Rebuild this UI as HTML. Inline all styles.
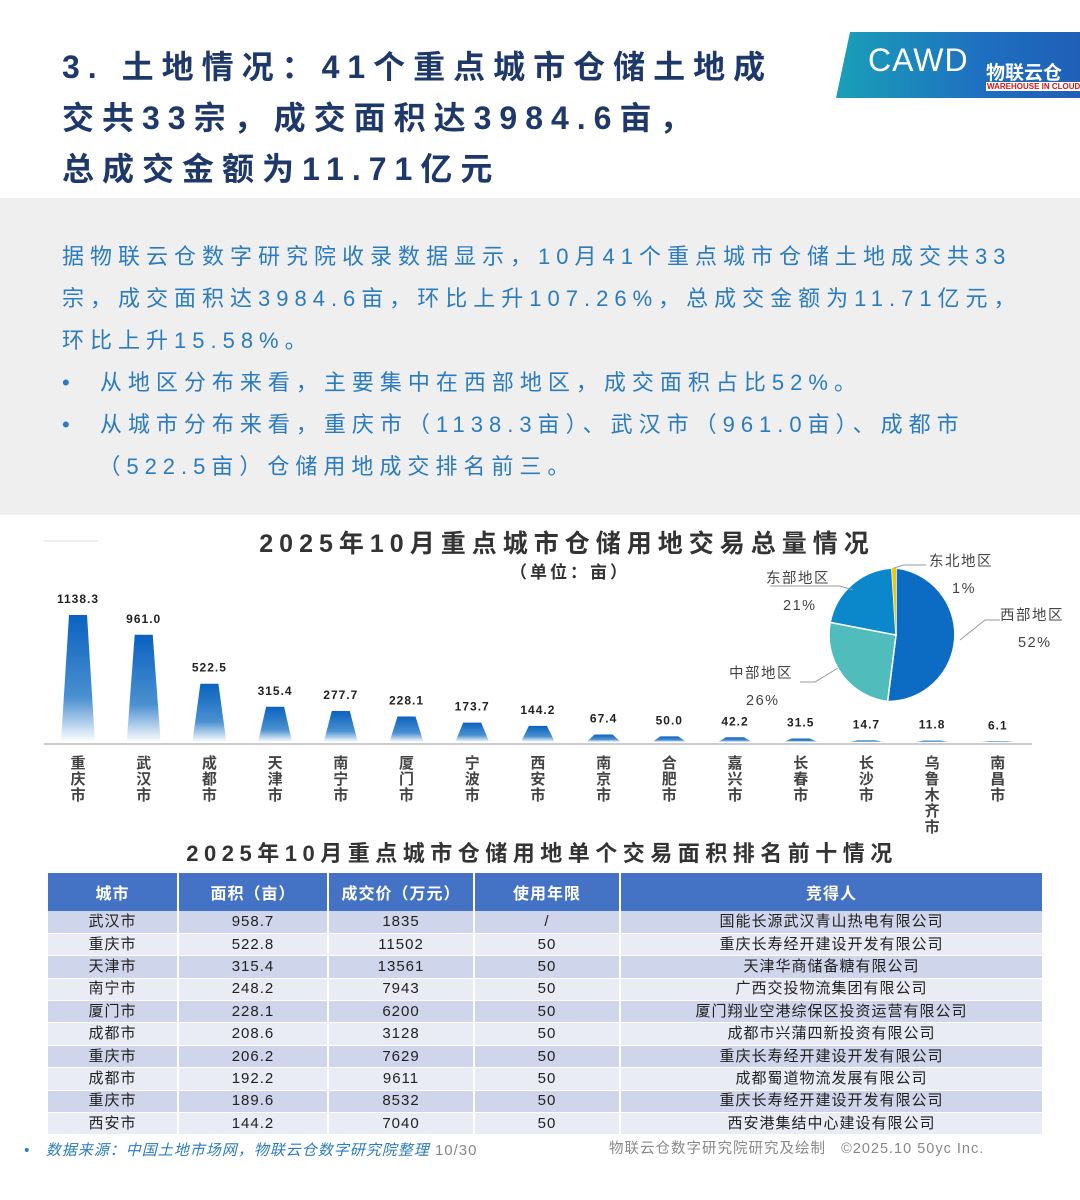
<!DOCTYPE html>
<html><head><meta charset="utf-8"><style>
*{margin:0;padding:0;box-sizing:border-box}
body{width:1080px;height:1200px;background:#fff;font-family:"Liberation Sans","Noto Sans CJK SC",sans-serif;position:relative;overflow:hidden}
.t{position:absolute;left:62px;top:42px;font-size:32px;font-weight:bold;color:#1d3869;line-height:51px;letter-spacing:8px;white-space:nowrap}
.g{position:absolute;left:0;top:198px;width:1080px;height:317px;background:#efefef}
.p{position:absolute;left:62px;top:236px;width:1010px;font-size:22px;color:#2b7bbf;line-height:42px;letter-spacing:6px;white-space:nowrap}
table{position:absolute;left:48px;top:873px;width:996px;border-collapse:collapse;font-size:15px;color:#222;letter-spacing:1px}
th{background:#4472c4;color:#fff;height:38px;font-size:16px;border-right:2px solid #fff}
td{height:22.4px;text-align:center;border-right:2px solid #fff;border-bottom:1px solid #fff;line-height:20px}
tr:nth-child(even) td{background:#cfd5ea}tr:nth-child(odd) td{background:#e9ebf5}
</style></head><body>
<div class="t">3. 土地情况：41个重点城市仓储土地成<br>交共33宗，成交面积达3984.6亩，<br>总成交金额为11.71亿元</div>
<div style="position:absolute;left:836px;top:32px;width:244px;height:66px;background:linear-gradient(90deg,#1aa0b8,#1e6fc0 60%,#1f5fb8);clip-path:polygon(14px 0,100% 0,100% 100%,0 100%)"></div>
<div style="position:absolute;left:868px;top:42px;color:#fff;font-size:32px;font-family:'Liberation Sans';letter-spacing:1px">CAWD</div>
<div style="position:absolute;left:986px;top:58px;color:#fff;font-size:19px;font-weight:bold">物联云仓</div>
<div style="position:absolute;left:986px;top:82px;color:#d01818;font-size:8px;font-weight:bold;background:#fff;padding:0 1px;white-space:nowrap">WAREHOUSE IN CLOUD</div>
<div class="g"></div>
<div class="p">据物联云仓数字研究院收录数据显示，10月41个重点城市仓储土地成交共33<br>宗，成交面积达3984.6亩，环比上升107.26%，总成交金额为11.71亿元，<br>环比上升15.58%。<br>•&nbsp; 从地区分布来看，主要集中在西部地区，成交面积占比52%。<br>•&nbsp; 从城市分布来看，重庆市（1138.3亩）、武汉市（961.0亩）、成都市<br>&nbsp;&nbsp;&nbsp;（522.5亩）仓储用地成交排名前三。</div>
<div style="position:absolute;left:0;top:524px;width:1080px;text-align:center;font-size:25px;font-weight:bold;color:#333;padding-left:54px;letter-spacing:6px">2025年10月重点城市仓储用地交易总量情况</div>
<div style="position:absolute;left:0;top:558px;width:1080px;text-align:center;font-size:17px;font-weight:bold;color:#333;padding-left:60px;letter-spacing:3px">（单位：亩）</div>
<svg width="1080" height="840" style="position:absolute;left:0;top:0" font-family="Liberation Sans, Noto Sans CJK SC, sans-serif">
<defs><linearGradient id="bg" x1="0" y1="0" x2="0" y2="1"><stop offset="0" stop-color="#0a62c0"/><stop offset="0.65" stop-color="#4a90d0"/><stop offset="1" stop-color="#fff"/></linearGradient></defs>
<line x1="44" y1="541" x2="98" y2="541" stroke="#ddd"/>
<line x1="44" y1="744" x2="1032" y2="744" stroke="#ccc" stroke-width="2"/>
<g id="bars"></g>
<path d="M896,635 L896,568 A67,67 0 0 1 887.6,701.5 Z" fill="#0c6cc4" stroke="#fff" stroke-width="1.5"/>
<path d="M896,635 L887.6,701.5 A67,67 0 0 1 830.2,622.4 Z" fill="#50bcbc" stroke="#fff" stroke-width="1.5"/>
<path d="M896,635 L830.2,622.4 A67,67 0 0 1 891.8,568.1 Z" fill="#0b88cc" stroke="#fff" stroke-width="1.5"/>
<path d="M896,635 L891.8,568.1 A67,67 0 0 1 896,568 Z" fill="#f2c800"/>
<g fill="none" stroke="#999"><path d="M894,568 L904,565 L926,565"/><path d="M853,590 L840,586 L770,586"/><path d="M960,640 L985,620 L1000,620"/><path d="M838,668 L815,682 L800,682"/></g>
<g font-size="14.5" fill="#444" letter-spacing="1.5"><text x="929" y="566">东北地区</text><text x="952" y="593">1%</text><text x="766" y="583">东部地区</text><text x="783" y="610">21%</text><text x="1000" y="620">西部地区</text><text x="1018" y="647">52%</text><text x="729" y="678">中部地区</text><text x="746" y="705">26%</text></g>
</svg>
<table>
<tr><th style="width:130px">城市</th><th style="width:150px">面积（亩）</th><th style="width:146px">成交价（万元）</th><th style="width:146px">使用年限</th><th>竞得人</th></tr>
<tr><td>武汉市</td><td>958.7</td><td>1835</td><td>/</td><td>国能长源武汉青山热电有限公司</td></tr>
<tr><td>重庆市</td><td>522.8</td><td>11502</td><td>50</td><td>重庆长寿经开建设开发有限公司</td></tr>
<tr><td>天津市</td><td>315.4</td><td>13561</td><td>50</td><td>天津华商储备糖有限公司</td></tr>
<tr><td>南宁市</td><td>248.2</td><td>7943</td><td>50</td><td>广西交投物流集团有限公司</td></tr>
<tr><td>厦门市</td><td>228.1</td><td>6200</td><td>50</td><td>厦门翔业空港综保区投资运营有限公司</td></tr>
<tr><td>成都市</td><td>208.6</td><td>3128</td><td>50</td><td>成都市兴蒲四新投资有限公司</td></tr>
<tr><td>重庆市</td><td>206.2</td><td>7629</td><td>50</td><td>重庆长寿经开建设开发有限公司</td></tr>
<tr><td>成都市</td><td>192.2</td><td>9611</td><td>50</td><td>成都蜀道物流发展有限公司</td></tr>
<tr><td>重庆市</td><td>189.6</td><td>8532</td><td>50</td><td>重庆长寿经开建设开发有限公司</td></tr>
<tr><td>西安市</td><td>144.2</td><td>7040</td><td>50</td><td>西安港集结中心建设有限公司</td></tr>
</table>
<div style="position:absolute;left:0;top:836px;width:1080px;text-align:center;font-size:22px;font-weight:bold;color:#333;padding-left:4px;letter-spacing:5.5px">2025年10月重点城市仓储用地单个交易面积排名前十情况</div>
<div style="position:absolute;left:24px;top:1139px;font-size:15px;color:#2b7bbf;font-style:italic;letter-spacing:1px">•&nbsp;&nbsp; 数据来源：中国土地市场网，物联云仓数字研究院整理 <span style="color:#888;font-style:normal">10/30</span></div>
<div style="position:absolute;left:609px;top:1137px;font-size:14.5px;color:#888;letter-spacing:1px">物联云仓数字研究院研究及绘制&nbsp;&nbsp; ©2025.10 50yc Inc.</div>
<script>
var d=[["重庆市",1138.3],["武汉市",961.0],["成都市",522.5],["天津市",315.4],["南宁市",277.7],["厦门市",228.1],["宁波市",173.7],["西安市",144.2],["南京市",67.4],["合肥市",50.0],["嘉兴市",42.2],["长春市",31.5],["长沙市",14.7],["乌鲁木齐市",11.8],["南昌市",6.1]];
var s="";
d.forEach(function(e,i){var cx=78+i*65.7,h=e[1]*0.1116,b=742,t=b-h;
s+='<path d="M'+(cx-17)+','+b+' L'+(cx-9)+','+t+' L'+(cx+9)+','+t+' L'+(cx+17)+','+b+' Z" fill="url(#bg)"/>';
s+='<text x="'+cx+'" y="'+(t-12)+'" text-anchor="middle" font-size="12" font-weight="bold" fill="#222" letter-spacing="1">'+e[1].toFixed(1)+'</text>';
for(var j=0;j<e[0].length;j++)s+='<text x="'+cx+'" y="'+(768+j*16)+'" text-anchor="middle" font-size="15" font-weight="bold" fill="#444">'+e[0][j]+'</text>';});
document.getElementById("bars").innerHTML=s;
</script>
</body></html>
